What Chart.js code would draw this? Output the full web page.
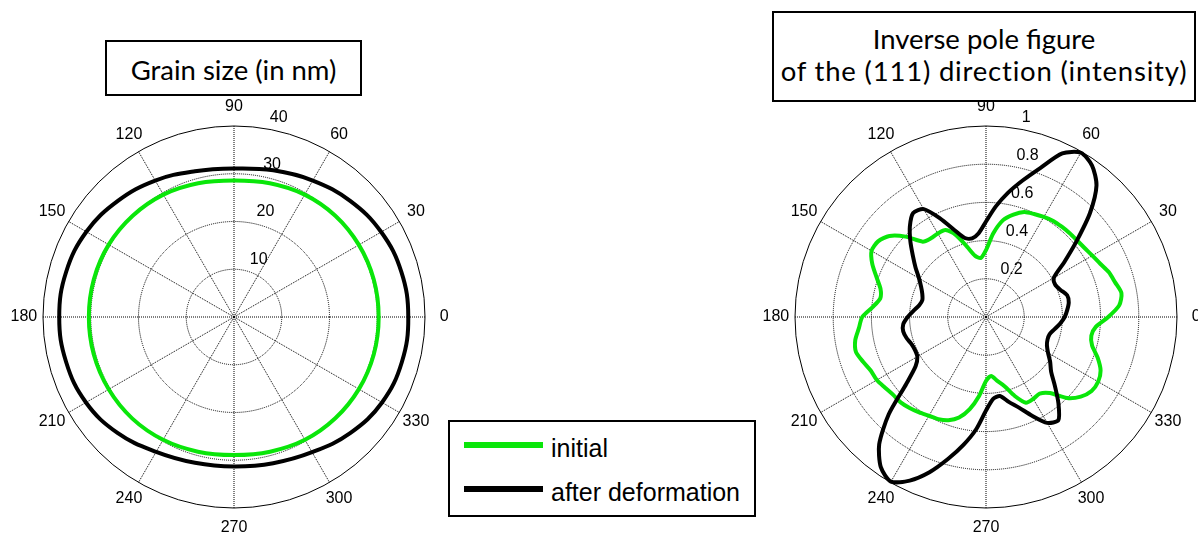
<!DOCTYPE html>
<html>
<head>
<meta charset="utf-8">
<script src="https://cdn.jsdelivr.net/npm/chart.js@4.4.1/dist/chart.umd.min.js"></script>
<style>
  html, body { margin: 0; padding: 0; background: #fff; overflow: hidden; }
  #stage { position: relative; width: 1198px; height: 541px; overflow: hidden; background: #fff; }
  canvas { position: absolute; }
  #grainCanvas { left: 4px; top: 87px; }
  #ipfCanvas { left: 756px; top: 87px; }
  .title {
    position: absolute; background: #fff; border: 2px solid #000; box-sizing: border-box;
    font-family: Lato, "Open Sans", sans-serif; color: #000; text-align: center; z-index: 2;
    white-space: nowrap;
  }
  #grainTitle { left: 105px; top: 40px; width: 257px; height: 56px; font-size: 27.5px; line-height: 55px; }
  #ipfTitle { left: 772px; top: 11px; width: 424px; height: 91px; font-size: 27.5px; line-height: 32px; padding-top: 10px; }
  #ipfTitle .wide { letter-spacing: 0.8px; }
  #legend {
    position: absolute; left: 448px; top: 420px; width: 308px; height: 97px;
    border: 2px solid #000; box-sizing: border-box; background: #fff; z-index: 2;
    font-family: "Liberation Sans", Arial, sans-serif; font-size: 25px; color: #000;
  }
  .swatch { position: absolute; left: 14px; width: 79px; height: 6px; }
  .entry { position: absolute; left: 101px; line-height: 25px; white-space: nowrap; }
</style>
</head>
<body>
<div id="stage">
  <canvas id="grainCanvas" width="460" height="460"></canvas>
  <canvas id="ipfCanvas" width="460" height="460"></canvas>
  <div id="grainTitle" class="title">Grain size (in nm)</div>
  <div id="ipfTitle" class="title">Inverse pole figure<br><span class="wide">of the (111) direction (intensity)</span></div>
  <div id="legend"></div>
</div>
<script>
// ---------- data ----------
// Grain size (nm), sampled every 15 degrees, counter-clockwise from 0
const grainAngles = [0, 15, 30, 45, 60, 75, 90, 105, 120, 135, 150, 165,
                     180, 195, 210, 225, 240, 255, 270, 285, 300, 315, 330, 345];
const grainInitial = [30.3, 30.3, 30.2, 30.0, 29.6, 29.0, 28.6, 29.0, 29.6, 30.0, 30.3, 30.4,
                      30.4, 30.4, 30.3, 30.1, 29.7, 29.2, 28.9, 29.2, 29.7, 30.0, 30.2, 30.3];
const grainDeformed = [36.5, 36.3, 35.6, 34.4, 33.0, 31.8, 31.1, 31.6, 33.0, 34.4, 35.7, 36.4,
                       36.6, 36.4, 35.8, 34.4, 32.6, 31.6, 31.3, 31.7, 32.7, 34.4, 35.8, 36.4];
const grainTicks = [10, 20, 30, 40];

// (111) inverse pole figure intensity, sampled every 5 degrees
const ipfAngles = [0, 5, 10, 15, 20, 25, 30, 35, 40, 45, 50, 55,
                   60, 65, 70, 75, 80, 85, 90, 95, 100, 105, 110, 115,
                   120, 125, 130, 135, 140, 145, 150, 155, 160, 165, 170, 175,
                   180, 185, 190, 195, 200, 205, 210, 215, 220, 225, 230, 235,
                   240, 245, 250, 255, 260, 265, 270, 275, 280, 285, 290, 295,
                   300, 305, 310, 315, 320, 325, 330, 335, 340, 345, 350, 355];
const ipfInitial = [0.640, 0.700, 0.720, 0.700, 0.685, 0.660, 0.643, 0.630, 0.623, 0.620, 0.617, 0.614,
                    0.605, 0.595, 0.585, 0.555, 0.515, 0.440, 0.350, 0.310, 0.325, 0.380, 0.455, 0.502,
                    0.505, 0.503, 0.515, 0.595, 0.660, 0.690, 0.692, 0.657, 0.610, 0.572, 0.562, 0.596,
                    0.648, 0.668, 0.695, 0.705, 0.685, 0.665, 0.660, 0.645, 0.634, 0.632, 0.622, 0.610,
                    0.597, 0.590, 0.575, 0.545, 0.490, 0.415, 0.335, 0.310, 0.340, 0.375, 0.440, 0.495,
                    0.495, 0.490, 0.520, 0.600, 0.648, 0.675, 0.678, 0.662, 0.622, 0.575, 0.560, 0.578];
const ipfDeformed = [0.412, 0.427, 0.440, 0.440, 0.415, 0.400, 0.410, 0.500, 0.620, 0.770, 0.900, 0.968,
                     0.993, 0.945, 0.830, 0.740, 0.660, 0.580, 0.500, 0.440, 0.418, 0.428, 0.485, 0.570,
                     0.652, 0.665, 0.620, 0.560, 0.500, 0.450, 0.405, 0.375, 0.355, 0.345, 0.355, 0.380,
                     0.410, 0.435, 0.440, 0.430, 0.415, 0.410, 0.415, 0.450, 0.545, 0.720, 0.870, 0.960,
                     0.995, 0.945, 0.865, 0.770, 0.680, 0.590, 0.490, 0.430, 0.420, 0.460, 0.505, 0.570,
                     0.640, 0.660, 0.590, 0.510, 0.445, 0.410, 0.375, 0.352, 0.343, 0.345, 0.365, 0.390];
const ipfTicks = [0.2, 0.4, 0.6, 0.8, 1];

const seriesNames = ['initial', 'after deformation'];
const seriesColors = ['#0ae60a', '#000000'];

// ---------- helpers ----------
// Radar scales run clockwise from startAngle; reorder so angles grow counter-clockwise from east.
function counterClockwise(arr) {
  const n = arr.length;
  return arr.map((_, i) => arr[(n - i) % n]);
}

const TXT_FONT = '16px "Liberation Sans", Arial, sans-serif';

// Angle labels every 30 degrees plus radial tick labels along the 82 degree ray
const polarText = {
  id: 'polarText',
  beforeDatasetsDraw(chart, args, opts) {
    const r = chart.scales.r;
    const ctx = chart.ctx;
    const labels = chart.data.labels;
    ctx.save();
    ctx.font = TXT_FONT;
    ctx.fillStyle = '#000';
    ctx.textAlign = 'center';
    ctx.textBaseline = 'middle';
    labels.forEach((deg, i) => {
      if (deg % 30 !== 0) return;
      const p = r.getPointPositionForValue(i, r.max * 1.1);
      ctx.fillText(String(deg), p.x, p.y);
    });
    ctx.textAlign = 'left';
    ctx.textBaseline = 'bottom';
    const a = 82 * Math.PI / 180;
    opts.ticks.forEach(v => {
      const d = r.getDistanceFromCenterForValue(v + opts.step / 20);
      ctx.fillText('  ' + String(v), r.xCenter + d * Math.cos(a), r.yCenter - d * Math.sin(a));
    });
    ctx.restore();
  }
};

function polarChart(canvasId, angles, initial, deformed, ticks, tension) {
  const labels = counterClockwise(angles);
  const max = ticks[ticks.length - 1];
  const step = ticks[1] - ticks[0];
  const lineStyle = { pointRadius: 0, pointHoverRadius: 0, borderWidth: 4, fill: false,
                      tension: tension, borderJoinStyle: 'round', borderCapStyle: 'round' };
  return new Chart(document.getElementById(canvasId), {
    type: 'radar',
    data: {
      labels: labels,
      datasets: [
        Object.assign({ label: seriesNames[1], data: counterClockwise(deformed),
                        borderColor: seriesColors[1] }, lineStyle),
        Object.assign({ label: seriesNames[0], data: counterClockwise(initial),
                        borderColor: seriesColors[0] }, lineStyle)
      ]
    },
    options: {
      responsive: false,
      animation: false,
      events: [],
      layout: { padding: 39 },
      plugins: {
        legend: { display: false },
        tooltip: { enabled: false },
        polarText: { ticks: ticks, step: step }
      },
      scales: {
        r: {
          min: 0,
          max: max,
          startAngle: 90,
          ticks: { display: false, stepSize: step },
          pointLabels: { display: false },
          grid: { circular: true, color: '#000', lineWidth: 1 },
          border: { dash: (c) => (c.tick && c.tick.value >= max - 1e-9) ? [] : [1, 1] },
          angleLines: {
            color: '#000',
            lineWidth: (c) => (labels[c.index] % 30 === 0 ? 1 : 0),
            borderDash: [1, 1]
          }
        }
      }
    },
    plugins: [polarText]
  });
}

polarChart('grainCanvas', grainAngles, grainInitial, grainDeformed, grainTicks, 0.4);
polarChart('ipfCanvas', ipfAngles, ipfInitial, ipfDeformed, ipfTicks, 0.25);

// ---------- legend ----------
const legend = document.getElementById('legend');
const rows = [{ top: 20, textTop: 14 }, { top: 64, textTop: 58 }];
seriesNames.forEach((name, i) => {
  const sw = document.createElement('div');
  sw.className = 'swatch';
  sw.style.top = rows[i].top + 'px';
  sw.style.background = seriesColors[i];
  legend.appendChild(sw);
  const t = document.createElement('div');
  t.className = 'entry';
  t.style.top = rows[i].textTop + 'px';
  t.textContent = name;
  legend.appendChild(t);
});
</script>
</body>
</html>
